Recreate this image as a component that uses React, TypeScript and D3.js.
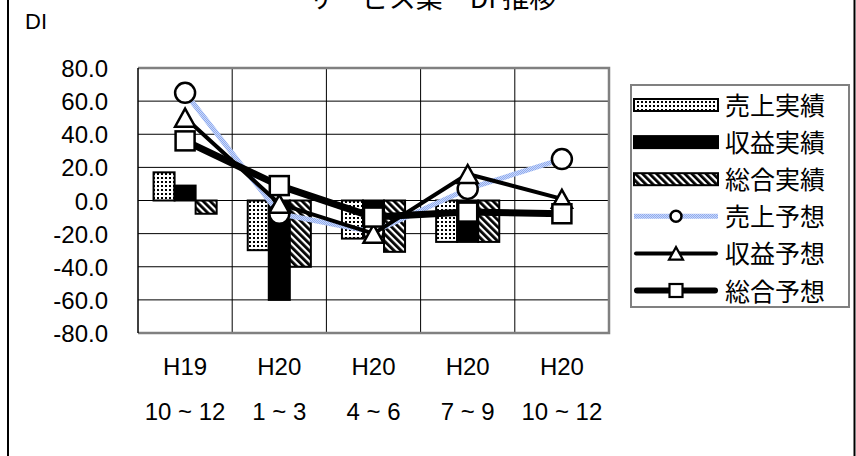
import React from "react";
import * as d3 from "d3";

// Quarter labels (two rows under each category)
const CATEGORY_YEARS = ["H19", "H20", "H20", "H20", "H20"];
const CATEGORY_MONTHS = ["10 ~ 12", "1 ~ 3", "4 ~ 6", "7 ~ 9", "10 ~ 12"];

// Actual DI (bars); the last quarter has no actual yet
const SALES_ACTUAL: (number | null)[] = [17, -30, -23, -25, null];
const PROFIT_ACTUAL: (number | null)[] = [9, -60, -20, -25, null];
const TOTAL_ACTUAL: (number | null)[] = [-8, -40, -31, -25, null];

// Forecast DI (lines)
const SALES_FORECAST = [65, -8, -19, 7, 25];
const PROFIT_FORECAST = [50, -2, -20, 16, 1];
const TOTAL_FORECAST = [36, 9, -10, -7, -8];

const Y_TICKS = [80, 60, 40, 20, 0, -20, -40, -60, -80];

const SERIES_NAMES = ["売上実績", "収益実績", "総合実績", "売上予想", "収益予想", "総合予想"];

const TITLE = "サービス業\u3000DI 推移";

const W = 856;
const H = 456;
const PLOT = { left: 138, right: 609, top: 68, bottom: 333 };
const LATIN = "'Liberation Sans', Arial, 'Noto Sans CJK JP', sans-serif";
const CJK = "'Noto Sans CJK JP', 'Liberation Sans', sans-serif";

export default function App() {
  const x = d3
    .scaleBand<number>()
    .domain(d3.range(CATEGORY_YEARS.length))
    .range([PLOT.left, PLOT.right])
    .padding(0);
  const bw = x.bandwidth();
  const groupW = bw * 0.67;
  const xBar = d3
    .scaleBand<number>()
    .domain([0, 1, 2])
    .range([(bw - groupW) / 2, (bw + groupW) / 2])
    .padding(0);
  const y = d3.scaleLinear().domain([-80, 80]).range([PLOT.bottom, PLOT.top]);
  const cx = (i: number) => (x(i) as number) + bw / 2;

  const line = d3
    .line<number>()
    .x((_, i) => cx(i))
    .y((d) => y(d));

  const barSeries = [
    { values: SALES_ACTUAL, fill: "url(#dots)" },
    { values: PROFIT_ACTUAL, fill: "#000" },
    { values: TOTAL_ACTUAL, fill: "url(#stripes)" },
  ];

  const circle = (px: number, py: number, r: number, sw: number, key?: any) => (
    <circle key={key} cx={px} cy={py} r={r} fill="#fff" stroke="#000" strokeWidth={sw} />
  );
  const triangle = (px: number, py: number, s: number, sw: number, key?: any) => {
    const h = s * 0.9;
    const pts = `${px},${py - h / 2} ${px + s / 2},${py + h / 2} ${px - s / 2},${py + h / 2}`;
    return <polygon key={key} points={pts} fill="#fff" stroke="#000" strokeWidth={sw} strokeLinejoin="miter" />;
  };
  const square = (px: number, py: number, s: number, sw: number, key?: any) => (
    <rect key={key} x={px - s / 2} y={py - s / 2} width={s} height={s} fill="#fff" stroke="#000" strokeWidth={sw} />
  );

  const legendX0 = 634;
  const legendX1 = 718;
  const legendMid = (legendX0 + legendX1) / 2;
  const legendY = (i: number) => 105 + i * 37.1;

  return (
    <svg
      width={W}
      height={H}
      viewBox={`0 0 ${W} ${H}`}
      style={{ position: "absolute", left: 0, top: 0, display: "block", background: "#fff" }}
    >
      <defs>
        <pattern id="dots" width="4" height="4" patternUnits="userSpaceOnUse">
          <rect width="4" height="4" fill="#fff" />
          <rect x="1" y="1" width="2" height="2" fill="#000" />
        </pattern>
        <pattern id="stripes" width="5" height="5" patternUnits="userSpaceOnUse" patternTransform="rotate(-45)">
          <rect width="5" height="5" fill="#fff" />
          <rect width="2.8" height="5" fill="#000" />
        </pattern>
        <pattern id="blueStipple" width="2" height="2" patternUnits="userSpaceOnUse">
          <rect width="2" height="2" fill="#cbd9f8" />
          <rect width="1" height="1" fill="#8eaaf0" />
          <rect x="1" y="1" width="1" height="1" fill="#8eaaf0" />
        </pattern>
      </defs>

      {/* chart frame */}
      <rect x={8} y={-10} width={846.5} height={H + 20} fill="#fff" stroke="#000" strokeWidth={2} />

      {/* title, clipped by the top of the frame */}
      <text x={432} y={7.5} textAnchor="middle" fontFamily={CJK} fontSize={27} fill="#000">
        {TITLE}
      </text>

      {/* axis title */}
      <text x={25} y={29} fontFamily={LATIN} fontSize={22} fill="#000">
        DI
      </text>

      {/* gridlines */}
      {Y_TICKS.map((t) => (
        <line key={"g" + t} x1={PLOT.left} x2={PLOT.right} y1={y(t)} y2={y(t)} stroke="#000" strokeWidth={1} />
      ))}
      {d3.range(1, CATEGORY_YEARS.length).map((i) => (
        <line key={"v" + i} x1={x(i)} x2={x(i)} y1={PLOT.top} y2={PLOT.bottom} stroke="#000" strokeWidth={1} />
      ))}

      {/* y tick labels */}
      {Y_TICKS.map((t) => (
        <text key={"t" + t} x={108} y={y(t) + 9} textAnchor="end" fontFamily={LATIN} fontSize={24} fill="#000">
          {t.toFixed(1)}
        </text>
      ))}

      {/* x labels */}
      {CATEGORY_YEARS.map((c, i) => (
        <g key={"x" + i}>
          <text x={cx(i)} y={375} textAnchor="middle" fontFamily={LATIN} fontSize={24} fill="#000">
            {c}
          </text>
          <text x={cx(i)} y={420} textAnchor="middle" fontFamily={LATIN} fontSize={24} fill="#000">
            {CATEGORY_MONTHS[i]}
          </text>
        </g>
      ))}

      {/* bars */}
      {barSeries.map((s, si) =>
        s.values.map((v, i) => {
          if (v === null) return null;
          const x0 = (x(i) as number) + (xBar(si) as number);
          const y0 = Math.min(y(0), y(v));
          const h = Math.abs(y(v) - y(0));
          return (
            <rect
              key={`b${si}-${i}`}
              x={x0}
              y={y0}
              width={xBar.bandwidth()}
              height={h}
              fill={s.fill}
              stroke="#000"
              strokeWidth={2}
            />
          );
        })
      )}

      {/* plot border */}
      <path
        d={`M${PLOT.left},${PLOT.top}H${PLOT.right}V${PLOT.bottom}H${PLOT.left}`}
        fill="none"
        stroke="#808080"
        strokeWidth={2.5}
      />
      <line x1={PLOT.left} x2={PLOT.left} y1={PLOT.top} y2={PLOT.bottom} stroke="#000" strokeWidth={1.5} />

      {/* sales forecast */}
      <path d={line(SALES_FORECAST) || ""} fill="none" stroke="url(#blueStipple)" strokeWidth={5} strokeLinejoin="round" />
      {SALES_FORECAST.map((v, i) => circle(cx(i), y(v), 10, 2.5, "c" + i))}

      {/* profit forecast */}
      <path d={line(PROFIT_FORECAST) || ""} fill="none" stroke="#000" strokeWidth={4} strokeLinejoin="round" />
      {PROFIT_FORECAST.map((v, i) => triangle(cx(i), y(v), 20, 2.5, "tr" + i))}

      {/* total forecast */}
      <path d={line(TOTAL_FORECAST) || ""} fill="none" stroke="#000" strokeWidth={7} strokeLinejoin="round" />
      {TOTAL_FORECAST.map((v, i) => square(cx(i), y(v), 19, 2.5, "sq" + i))}

      {/* legend */}
      <rect x={631} y={85} width={218} height={222} fill="#fff" stroke="#808080" strokeWidth={2} />
      {SERIES_NAMES.map((name, i) => {
        const ly = legendY(i);
        let sym: React.ReactNode = null;
        if (i < 3) {
          sym = (
            <rect
              x={legendX0}
              y={ly - 6}
              width={legendX1 - legendX0}
              height={12}
              fill={barSeries[i].fill}
              stroke="#000"
              strokeWidth={2}
            />
          );
        } else if (i === 3) {
          sym = (
            <g>
              <line x1={legendX0} x2={legendX1} y1={ly} y2={ly} stroke="url(#blueStipple)" strokeWidth={5} />
              {circle(legendMid, ly, 5.5, 2.5)}
            </g>
          );
        } else if (i === 4) {
          sym = (
            <g>
              <line x1={legendX0 + 2} x2={legendX1 - 2} y1={ly} y2={ly} stroke="#000" strokeWidth={4} strokeLinecap="round" />
              {triangle(legendMid, ly, 14, 2.2)}
            </g>
          );
        } else {
          sym = (
            <g>
              <line x1={legendX0 + 3} x2={legendX1 - 3} y1={ly} y2={ly} stroke="#000" strokeWidth={6} strokeLinecap="round" />
              {square(legendMid, ly, 13, 2.2)}
            </g>
          );
        }
        return (
          <g key={"l" + i}>
            {sym}
            <text x={725} y={ly + 10} fontFamily={CJK} fontSize={25} fill="#000">
              {name}
            </text>
          </g>
        );
      })}
    </svg>
  );
}
